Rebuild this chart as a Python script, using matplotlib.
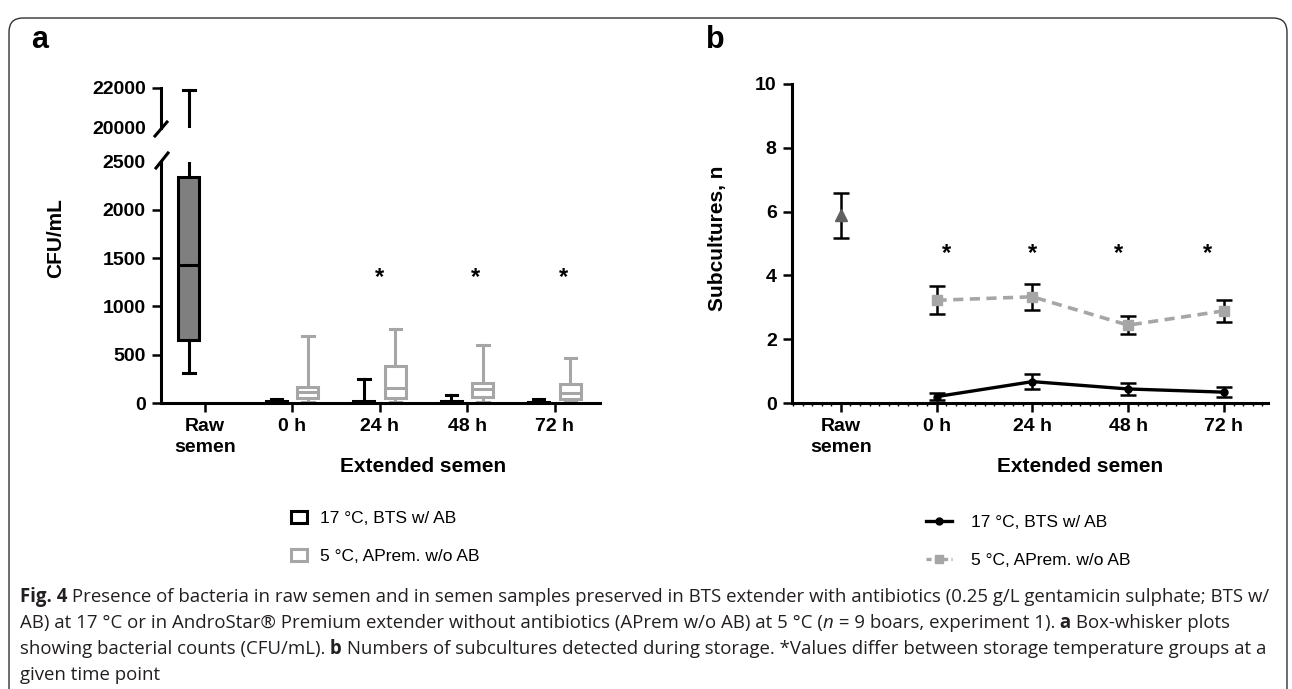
import matplotlib
matplotlib.use("Agg")
import matplotlib.pyplot as plt
from matplotlib import font_manager
from matplotlib.patches import Patch, FancyBboxPatch
from matplotlib.lines import Line2D
from matplotlib.ticker import MultipleLocator
from matplotlib.transforms import IdentityTransform, blended_transform_factory

W, H = 1292, 689

# ── data ──
groups = ["Raw\nsemen", "0 h", "24 h", "48 h", "72 h"]
ext_x = [1, 2, 3, 4]
series = ["17 °C, BTS w/ AB", "5 °C, APrem. w/o AB"]

# (a) CFU/mL, box-whisker summaries
raw_box = dict(whislo=310, q1=650, med=1430, q3=2340, whishi=21900)
bts_lo = [0, 0, 0, 0]
bts_q1 = [0, 0, 0, 0]
bts_med = [5, 5, 5, 5]
bts_q3 = [20, 25, 20, 15]
bts_hi = [45, 250, 85, 40]
apr_lo = [10, 10, 10, 10]
apr_q1 = [50, 55, 65, 40]
apr_med = [115, 160, 140, 100]
apr_q3 = [170, 385, 205, 195]
apr_hi = [690, 770, 605, 470]
sig_a = [2, 3, 4]

# (b) subcultures, mean ± SEM
raw_mean, raw_sem = 5.88, 0.70
bts_mean = [0.20, 0.67, 0.44, 0.34]
bts_sem = [0.10, 0.24, 0.18, 0.16]
apr_mean = [3.22, 3.33, 2.44, 2.89]
apr_sem = [0.44, 0.41, 0.29, 0.34]
sig_b = [1, 2, 3, 4]

GRAY = "#a6a6a6"
DARK = "#7f7f7f"
LW = 2.2
TICK_FS = 14
LABEL_FS = 15


def pick(*names):
    avail = {f.name for f in font_manager.fontManager.ttflist}
    for n in names:
        if n in avail:
            return n
    return "DejaVu Sans"


SANS = pick("Liberation Sans", "Arial")
CAP = pick("Liberation Sans Narrow", "Open Sans")
plt.rcParams["font.family"] = [SANS, "DejaVu Sans"]


def fpos(l, t, r, b):
    return [l / W, 1 - b / H, (r - l) / W, (b - t) / H]


def stats(lo, q1, med, q3, hi):
    return [dict(whislo=a, q1=b, med=c, q3=d, whishi=e, fliers=[])
            for a, b, c, d, e in zip(lo, q1, med, q3, hi)]


def draw_boxes(ax):
    ax.bxp([dict(raw_box, fliers=[])], positions=[-0.18], widths=0.24, capwidths=0.13,
           patch_artist=True, showfliers=False, manage_ticks=False,
           boxprops=dict(facecolor=DARK, edgecolor="black", lw=LW),
           medianprops=dict(color="black", lw=LW),
           whiskerprops=dict(color="black", lw=LW), capprops=dict(color="black", lw=LW))
    ax.bxp(stats(bts_lo, bts_q1, bts_med, bts_q3, bts_hi),
           positions=[x - 0.18 for x in ext_x], widths=0.24, capwidths=0.13,
           patch_artist=True, showfliers=False, manage_ticks=False,
           boxprops=dict(facecolor="white", edgecolor="black", lw=LW),
           medianprops=dict(color="black", lw=LW),
           whiskerprops=dict(color="black", lw=LW), capprops=dict(color="black", lw=LW))
    ax.bxp(stats(apr_lo, apr_q1, apr_med, apr_q3, apr_hi),
           positions=[x + 0.18 for x in ext_x], widths=0.24, capwidths=0.13,
           patch_artist=True, showfliers=False, manage_ticks=False,
           boxprops=dict(facecolor="white", edgecolor=GRAY, lw=LW),
           medianprops=dict(color=GRAY, lw=LW),
           whiskerprops=dict(color=GRAY, lw=LW), capprops=dict(color=GRAY, lw=LW))


def style(ax):
    for s in ["top", "right"]:
        ax.spines[s].set_visible(False)
    for s in ["left", "bottom"]:
        ax.spines[s].set_linewidth(LW)
    ax.tick_params(width=1.8, length=6.5, labelsize=TICK_FS, pad=4.5)
    for lab in ax.get_xticklabels() + ax.get_yticklabels():
        lab.set_fontweight("bold")


fig = plt.figure(figsize=(W / 100, H / 100), dpi=100)

# ── panel a ──
axa = fig.add_axes(fpos(161, 161.5, 600, 403))
axt = fig.add_axes(fpos(161, 88, 600, 128))
for ax in (axa, axt):
    draw_boxes(ax)
    ax.set_xlim(-0.5, 4.52)
axa.set_ylim(0, 2500)
axa.set_yticks(range(0, 2501, 500))
axa.set_xticks(range(len(groups)))
axa.set_xticklabels(groups, linespacing=1.25)
style(axa)
axa.yaxis.get_major_ticks()[-1].tick1line.set_visible(False)

axt.set_ylim(20000, 22000)
axt.set_yticks([20000, 22000])
axt.set_xticks([])
style(axt)
axt.spines["bottom"].set_visible(False)
axt.yaxis.get_major_ticks()[0].tick1line.set_visible(False)

# break marks on the y axis
for (x0, y0, x1, y1) in [(155, 136, 167, 122), (156, 168, 168, 153)]:
    fig.add_artist(Line2D([x0 / W, x1 / W], [1 - y0 / H, 1 - y1 / H],
                          color="black", lw=LW, transform=fig.transFigure))

for x in sig_a:
    axa.text(x + (0.1 if x > 2 else 0), 1300, "*", ha="center", va="center",
             fontsize=17, fontweight="bold")

bt = blended_transform_factory(axa.transData, fig.transFigure)
axa.text(2.5, 1 - 466 / H, "Extended semen", transform=bt, ha="center", va="center",
         fontsize=LABEL_FS, fontweight="bold")
fig.text(56 / W, 1 - 238 / H, "CFU/mL", rotation=90, ha="center", va="center",
         fontsize=LABEL_FS, fontweight="bold")
fig.text(31 / W, 1 - 48 / H, "a", fontsize=22, fontweight="bold", va="baseline")

fig.legend(handles=[Patch(facecolor="white", edgecolor="black", lw=LW),
                    Patch(facecolor="white", edgecolor=GRAY, lw=LW)],
           labels=series, loc="upper left", bbox_to_anchor=(291 / W, 1 - 511 / H),
           frameon=False, fontsize=12.5, handlelength=0.9, handleheight=0.7,
           handletextpad=0.75, labelspacing=1.3, borderpad=0, borderaxespad=0)

# ── panel b ──
axb = fig.add_axes(fpos(792, 84, 1268, 403))
axb.errorbar([0], [raw_mean], yerr=[raw_sem], fmt="^", color="#606060", ms=9,
             ecolor="black", elinewidth=1.8, capsize=6, capthick=1.8, zorder=3)
axb.errorbar(ext_x, bts_mean, yerr=bts_sem, color="black", lw=2.4, marker="o", ms=5,
             ecolor="black", elinewidth=1.8, capsize=6, capthick=1.8, zorder=3)
axb.errorbar(ext_x, apr_mean, yerr=apr_sem, color=GRAY, lw=2.6, ls=(0, (2.8, 1.8)),
             marker="s", ms=7, ecolor="black", elinewidth=1.8, capsize=6, capthick=1.8,
             zorder=3)
axb.set_xlim(-0.51, 4.46)
axb.set_ylim(0, 10)
axb.set_yticks(range(0, 11, 2))
axb.set_xticks(range(len(groups)))
axb.set_xticklabels(groups, linespacing=1.25)
axb.xaxis.set_minor_locator(MultipleLocator(0.1))
style(axb)
axb.tick_params(axis="x", which="minor", length=2.5, width=1)
for x, dx in zip(sig_b, [0.1, 0.0, -0.1, -0.17]):
    axb.text(x + dx, 4.7, "*", ha="center", va="center", fontsize=17, fontweight="bold")

bt = blended_transform_factory(axb.transData, fig.transFigure)
axb.text(2.5, 1 - 466 / H, "Extended semen", transform=bt, ha="center", va="center",
         fontsize=LABEL_FS, fontweight="bold")
fig.text(718 / W, 1 - 238 / H, "Subcultures, n", rotation=90, ha="center", va="center",
         fontsize=LABEL_FS, fontweight="bold")
fig.text(706 / W, 1 - 48 / H, "b", fontsize=22, fontweight="bold", va="baseline")

fig.legend(handles=[Line2D([], [], color="black", lw=2.4, marker="o", ms=5),
                    Line2D([], [], color=GRAY, lw=2.4, ls=(0, (1.5, 1)), marker="s", ms=6)],
           labels=series, loc="upper left", bbox_to_anchor=(926 / W, 1 - 515 / H),
           frameon=False, fontsize=12.5, handlelength=1.5, handletextpad=1.1,
           labelspacing=1.3, borderpad=0, borderaxespad=0)

# ── caption ──
CAP_COLOR = "#231f20"
B = dict(fontweight="bold")
I = dict(fontstyle="italic")
caption = [
    [("Fig. 4", B), (" Presence of bacteria in raw semen and in semen samples preserved in BTS "
                     "extender with antibiotics (0.25 g/L gentamicin sulphate; BTS w/", {})],
    [("AB) at 17 °C or in AndroStar® Premium extender without antibiotics (APrem w/o AB) "
      "at 5 °C (", {}), ("n", I), (" = 9 boars, experiment 1).", {}), (" a", B),
     (" Box-whisker plots", {})],
    [("showing bacterial counts (CFU/mL).", {}), (" b", B),
     (" Numbers of subcultures detected during storage. *Values differ between storage "
      "temperature groups at a", {})],
    [("given time point", {})],
]
renderer = fig.canvas.get_renderer()


def put_line(parts, x_px, y_px, size):
    x = x_px
    made = []
    for txt, kw in parts:
        t = fig.text(x / W, 1 - y_px / H, txt, fontsize=size, family=[CAP, "DejaVu Sans"],
                     color=CAP_COLOR, va="baseline", **kw)
        x += t.get_window_extent(renderer).width
        made.append(t)
    return x - x_px, made


w10, tmp = put_line(caption[0], 20, 602, 10)
for t in tmp:
    t.remove()
size = 10 * 1246 / w10
for i, parts in enumerate(caption):
    put_line(parts, 20, 602 + 26 * i, size)

# rounded frame
fig.add_artist(FancyBboxPatch((9, -30), 1278, H - 9 + 30 - 9,
                              boxstyle="round,pad=0,rounding_size=14",
                              facecolor="none", edgecolor="#333333", lw=1,
                              transform=IdentityTransform()))

fig.savefig("out.png", dpi=100)
